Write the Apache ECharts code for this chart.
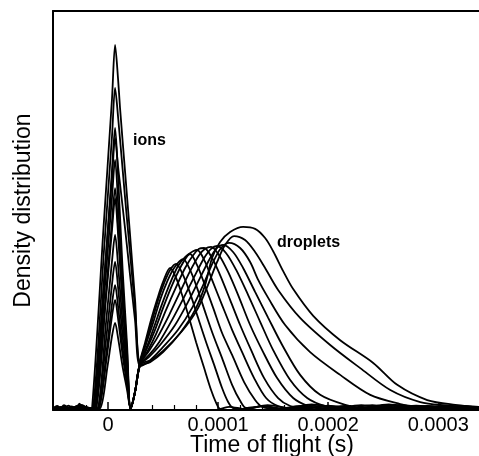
<!DOCTYPE html>
<html>
<head>
<meta charset="utf-8">
<script src="https://cdn.jsdelivr.net/npm/echarts/dist/echarts.min.js"></script>
<style>
html,body{margin:0;padding:0;background:#fff;}
#chart{width:479px;height:456px;}
</style>
</head>
<body>
<div id="chart"></div>
<script>
// time in microseconds, density in % of frame height
const xTickValues = [0, 100, 200, 300];
const xTickLabels = ['0', '0.0001', '0.0002', '0.0003'];
const xMinorTicks = [-40, -20, 20, 40, 60, 80, 120, 140, 160, 180, 220, 240, 260, 280, 320];

const c1 = [[-50,0.3],[-46,1.0],[-42,0.2],[-35,0.5],[-28,0.2],[-20,0.6],[-13,0.3],
[-9.1,0.5],[-1.4,18.6],[3.6,31.5],[6.4,37.1],[9.1,30.8],[13.2,18.6],[17.3,8.5],[20.5,0.3],[24.5,4.5],
[29.1,12.3],[33.6,16.8],[39.1,22.6],[44.5,27.6],[50,32.1],[56.4,35.6],
[61.8,33.1],[67.3,28.8],[73.6,23.1],[80,17.0],[87.3,10.5],[93.6,5.0],[98.2,1.8],[101.8,0.3],
[110,0.8],[125,0.2],[140,1.0],[160,0.3],[190,0.8],[230,0.2],[270,0.6],[310,0.3],[337,0.4]];
const c2 = [[-50,0.4],[-45,0.2],[-40,0.9],[-32,0.2],[-24,1.3],[-18,0.2],[-14,0.4],
[-10.9,0.5],[-2.3,26.6],[3.6,45.1],[6.4,53.1],[9.1,44.1],[13.2,26.6],[17.3,12.2],[20.5,0.3],[24.5,4.5],
[29.1,12.0],[34.5,17.0],[40,22.3],[45.5,27.6],[50.9,31.8],[56.4,35.1],[61.8,36.6],
[68.2,33.8],[74.5,29.3],[81.8,23.1],[89.1,17.0],[96.4,11.3],[103.6,5.5],[109.1,2.0],[113.6,0.5],
[125,0.3],[145,1.2],[170,0.2],[200,0.9],[240,0.3],[280,1.1],[320,0.2],[337,0.5]];
const c3 = [[-50,0.2],[-44,0.6],[-38,0.1],[-30,0.8],[-25,0.3],[-17,0.4],[-15,0.2],
[-11.8,0.4],[-2.7,35.4],[3.6,60.1],[6.4,70.7],[9.1,58.7],[13.2,35.4],[17.3,16.3],[20.5,0.3],[24.5,4.5],
[29.1,12.0],[34.5,16.5],[40.9,21.8],[47.3,27.6],[53.6,32.1],[60,35.6],[68.2,37.8],
[74.5,35.1],[80.9,30.6],[88.2,24.6],[95.5,18.8],[103.6,13.0],[112.7,6.3],[120,2.3],[125.5,0.5],
[140,0.9],[160,0.2],[185,1.4],[210,0.3],[250,0.8],[290,0.3],[330,0.7],[337,0.3]];
const c4 = [[-50,0.5],[-47,0.2],[-41,0.3],[-36,1.1],[-30,0.2],[-22,0.5],[-12,0.3],
[-8.2,0.5],[-0.9,15.7],[3.6,26.6],[6.4,31.3],[9.1,26.0],[13.2,15.7],[17.3,7.2],[20.5,0.3],[24.5,4.5],
[29.1,11.8],[35.5,16.0],[41.8,20.8],[49.1,26.6],[56.4,31.8],[63.6,36.1],[70,38.3],[74.5,39.1],
[80.9,36.3],[87.3,31.8],[95.5,25.6],[103.6,19.3],[112.7,13.8],[123.6,7.0],[133.6,2.5],[140,0.8],
[155,0.3],[175,1.0],[200,0.2],[230,1.2],[260,0.3],[300,0.9],[337,0.3]];
const c5 = [[-50,0.3],[-43,0.8],[-37,0.2],[-29,0.3],[-26,1.6],[-22,0.2],[-17,0.3],
[-13.6,0.5],[-3.6,40.3],[3.6,68.6],[6.4,80.7],[9.1,73.5],[15.5,53.1],[20,39.3],[24.5,25.6],[29.1,12.0],
[35.5,15.5],[42.7,20.1],[50,25.6],[58.2,31.3],[66.4,36.1],[73.6,39.1],[80.9,40.1],
[88.2,37.1],[94.5,32.6],[103.6,26.3],[112.7,20.1],[121.8,14.5],[132.7,8.0],[143.6,3.0],[154.5,1.0],
[170,0.4],[190,1.3],[215,0.2],[245,0.9],[275,0.3],[310,1.0],[337,0.4]];
const c6 = [[-50,0.2],[-45,0.5],[-39,0.2],[-33,0.9],[-27,0.1],[-20,0.7],[-14,0.2],
[-10.9,0.4],[-2.3,27.8],[3.6,47.3],[6.4,55.6],[9.1,46.1],[13.2,27.8],[17.3,12.8],[20.5,0.3],[24.5,4.5],
[29.1,11.5],[36.4,15.0],[43.6,19.0],[52.7,25.1],[61.8,30.8],[70,35.6],[77.3,38.8],[82.7,40.4],[87.3,40.6],
[94.5,38.1],[101.8,33.8],[110.9,27.6],[120,21.3],[130,15.0],[141.8,8.0],[154.5,3.0],[165.5,1.0],
[180,0.3],[200,1.1],[225,0.2],[255,1.4],[285,0.3],[320,0.8],[337,0.2]];
const c7 = [[-50,0.6],[-46,0.2],[-40,0.4],[-34,0.2],[-28,1.0],[-21,0.3],[-14,0.4],
[-10,0.4],[-1.8,22.0],[3.6,37.3],[6.4,43.9],[9.1,36.4],[13.2,22.0],[17.3,10.1],[20.5,0.3],[24.5,4.5],
[29.1,11.5],[36.4,14.5],[44.5,18.0],[55.5,23.8],[65.5,29.6],[74.5,34.8],[82.7,38.8],[88.2,40.4],[93.6,40.9],
[100.9,38.8],[109.1,34.6],[118.2,28.8],[129.1,21.3],[140,15.0],[153.6,8.0],[168.2,3.0],[181.8,1.0],
[195,0.3],[215,1.0],[240,0.2],[265,1.3],[295,0.4],[325,1.0],[337,0.3]];
const c8 = [[-50,0.3],[-44,0.2],[-38,0.7],[-31,0.2],[-25,0.4],[-19,0.2],[-17,0.3],
[-14.5,0.5],[-4.1,45.7],[3.6,78.0],[6.4,91.5],[9.1,83.0],[10.9,75.7],[15.5,59.6],[20,43.9],[24.5,27.8],[29.1,11.8],
[37.3,13.8],[46.4,17.0],[58.2,22.6],[69.1,28.3],[79.1,33.8],[87.3,38.1],[93.6,40.4],[99.1,41.1],
[107.3,39.3],[116.4,35.1],[127.3,28.8],[138.2,22.1],[150,15.0],[165.5,7.5],[180.9,3.0],[197.3,1.0],
[215,0.4],[240,1.2],[265,0.3],[290,1.0],[315,0.3],[337,0.6]];
const c9 = [[-50,0.2],[-47,0.9],[-43,0.2],[-36,0.4],[-30,0.1],[-23,1.1],[-16,0.2],
[-11.8,0.4],[-2.7,31.4],[3.6,53.3],[6.4,62.7],[9.1,52.0],[13.2,31.4],[17.3,14.4],[20.5,0.3],[24.5,4.5],
[29.1,11.3],[37.3,13.3],[47.3,16.3],[60.9,21.3],[72.7,27.1],[82.7,32.6],[91.8,37.6],[98.2,40.4],[104.5,41.4],
[113.6,39.6],[122.7,35.6],[133.6,29.6],[145.5,23.1],[158.2,16.3],[174.5,8.8],[192.7,3.8],[215.5,1.3],
[235,0.4],[255,1.2],[280,0.3],[305,0.9],[325,0.3],[337,0.5]];
const c10 = [[-50,0.4],[-44,0.2],[-40,1.2],[-35,0.3],[-28,0.2],[-21,0.8],[-13,0.3],
[-7.3,0.4],[-0.5,10.9],[3.6,18.5],[6.4,21.8],[9.1,18.1],[13.2,10.9],[17.3,5.0],[20.5,0.3],[24.5,4.5],
[29.1,11.3],[38.2,12.5],[49.1,15.5],[63.6,20.1],[76.4,25.6],[86.4,31.3],[95.5,37.1],[102.7,40.6],[110,41.9],
[120,40.6],[129.1,37.1],[136.4,32.6],[145.5,28.1],[160.9,21.3],[183.6,14.5],[210.9,8.8],[238.2,3.8],[265.5,1.5],
[285,0.4],[310,1.1],[330,0.3],[337,0.6]];
const c11 = [[-50,0.3],[-46,0.6],[-41,0.2],[-34,0.7],[-29,0.2],[-24,0.5],[-16,0.2],
[-12.7,0.5],[-3.2,34.1],[3.6,58.0],[6.4,68.2],[9.1,61.0],[10.9,56.6],[15.5,45.4],[20,33.8],[24.5,22.6],[29.1,11.0],
[38.2,12.3],[50,14.8],[67.3,19.8],[80.9,25.1],[90,30.8],[99.1,37.1],[106.4,41.4],[114.5,43.6],
[124.5,42.6],[133.6,39.6],[142.7,35.6],[154.5,30.1],[174.5,23.1],[201.8,16.3],[229.1,10.5],[256.4,5.0],[283.6,2.0],[310.9,1.0],
[325,0.4],[337,0.7]];
const c12 = [[-50,0.2],[-45,0.4],[-39,0.1],[-33,0.3],[-26,1.2],[-20,0.3],[-12,0.2],
[-8.2,0.4],[-0.9,13.8],[3.6,23.5],[6.4,27.6],[9.1,22.9],[13.2,13.8],[17.3,6.3],[20.5,0.3],[24.5,4.5],
[29.1,11.0],[38.2,12.0],[50,14.5],[65.5,19.3],[79.1,25.1],[88.2,31.3],[94.5,38.1],[101.8,42.1],[110.9,44.6],[122.7,45.9],
[133.6,45.4],[142.7,43.1],[150,39.8],[159.1,34.8],[168.2,30.3],[186.4,23.6],[210.9,17.5],[240.9,11.8],[262.7,6.3],[290,2.5],[315.5,1.3],[337,0.8]];

const curves = [c1, c2, c3, c4, c5, c6, c7, c8, c9, c10, c11, c12];
const FONT = '"Liberation Sans", Arial, Helvetica, sans-serif';
const X_MIN = -50, X_MAX = 337;

const chart = echarts.init(document.getElementById('chart'), null, {renderer: 'canvas'});
chart.setOption({
  animation: false,
  backgroundColor: '#fff',
  grid: {left: 53, right: 0, top: 11, bottom: 46, containLabel: false, outerBoundsMode: 'none'},
  xAxis: [
    {
      type: 'value', position: 'bottom', min: X_MIN, max: X_MAX,
      axisLine: {show: true, onZero: false, lineStyle: {color: '#000', width: 2}},
      axisTick: {show: true, inside: true, length: 8, customValues: xTickValues, lineStyle: {color: '#000', width: 1.5}},
      axisLabel: {
        show: true, customValues: xTickValues, margin: 5,
        formatter: v => { const i = xTickValues.indexOf(Math.round(v)); return i >= 0 ? xTickLabels[i] : ''; },
        fontSize: 20, color: '#000', fontFamily: FONT
      },
      splitLine: {show: false},
      name: 'Time of flight (s)', nameLocation: 'middle', nameGap: 24, nameMoveOverlap: false,
      nameTextStyle: {fontSize: 23, color: '#000', fontFamily: FONT, padding: [0, 0, 0, 12]}
    },
    {
      type: 'value', position: 'bottom', min: X_MIN, max: X_MAX,
      axisLine: {show: false},
      axisTick: {show: true, inside: true, length: 5, customValues: xMinorTicks, lineStyle: {color: '#000', width: 1.2}},
      axisLabel: {show: false},
      splitLine: {show: false}
    },
    {
      type: 'value', position: 'top', min: X_MIN, max: X_MAX,
      axisLine: {show: true, onZero: false, lineStyle: {color: '#000', width: 2}},
      axisTick: {show: false}, axisLabel: {show: false}, splitLine: {show: false}
    }
  ],
  yAxis: {
    type: 'value', min: 0, max: 100,
    axisLine: {show: true, onZero: false, lineStyle: {color: '#000', width: 2}},
    axisTick: {show: false}, axisLabel: {show: false}, splitLine: {show: false},
    name: 'Density distribution', nameLocation: 'middle', nameGap: 18, nameMoveOverlap: false,
    nameTextStyle: {fontSize: 23, color: '#000', fontFamily: FONT}
  },
  graphic: [
    {type: 'text', x: 133, y: 141, silent: true,
     style: {text: 'ions', font: 'bold 16px ' + FONT, fill: '#000', align: 'left', verticalAlign: 'middle'}},
    {type: 'text', x: 277, y: 243, silent: true,
     style: {text: 'droplets', font: 'bold 16px ' + FONT, fill: '#000', align: 'left', verticalAlign: 'middle'}}
  ],
  series: curves.map((d, i) => ({
    type: 'line', name: 'c' + (i + 1), data: d, xAxisIndex: 0, yAxisIndex: 0,
    showSymbol: false, symbol: 'none', smooth: 0.3, silent: true,
    lineStyle: {color: '#000', width: 1.8}
  }))
});
</script>
</body>
</html>
